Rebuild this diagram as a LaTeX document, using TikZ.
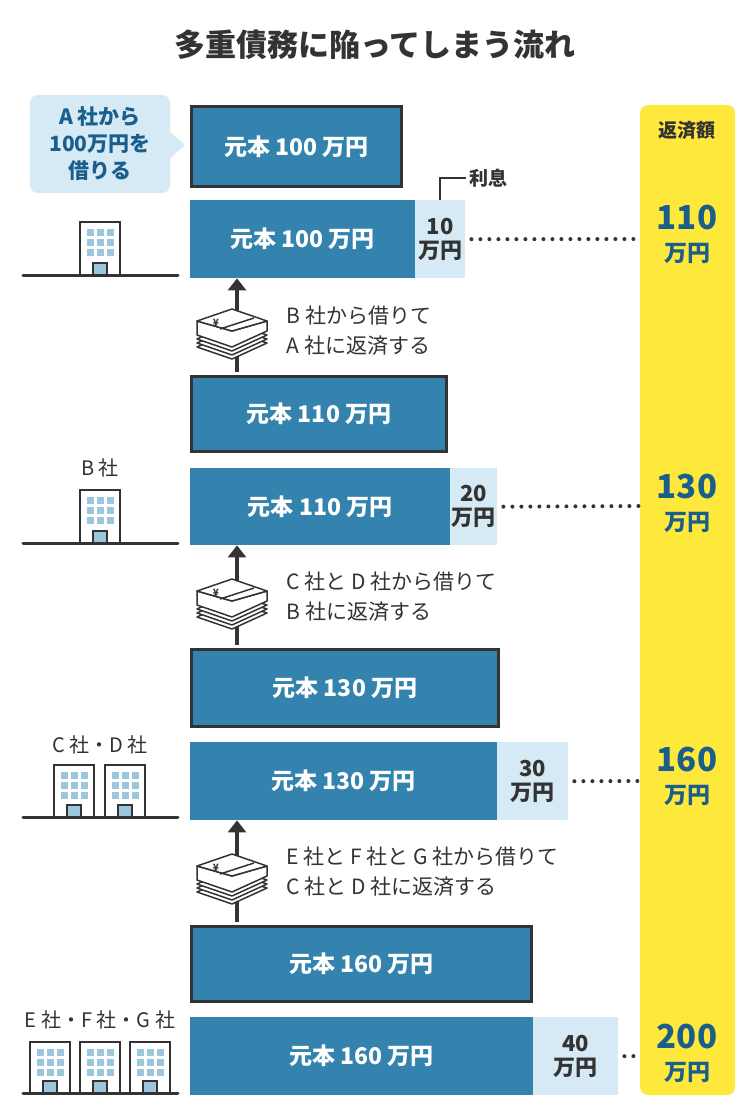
\documentclass[tikz,border=0pt]{standalone}
\usepackage{fontspec}
\setmainfont{Noto Sans CJK JP}
\usetikzlibrary{positioning,shapes,arrows.meta}
\definecolor{barblue}{HTML}{3383AE}
\definecolor{paleblue}{HTML}{D5EAF4}
\definecolor{inkblue}{HTML}{1A5E8C}
\definecolor{ink}{HTML}{333333}
\definecolor{payyellow}{HTML}{FFE83C}
\definecolor{winblue}{HTML}{9CC6DC}
\tikzset{
  bar/.style={fill=barblue,text=white,font=\bfseries\fontsize{23}{26}\selectfont,inner sep=0pt,anchor=north west},
  newbar/.style={bar,draw=ink,line width=3pt},
  interest/.style={fill=paleblue,text=ink,font=\bfseries\fontsize{22}{24}\selectfont,align=center,inner sep=0pt,anchor=north west},
  amount/.style={text=inkblue,font=\bfseries\fontsize{33}{34}\selectfont,align=center},
  yen/.style={text=inkblue,font=\bfseries\fontsize{23}{24}\selectfont},
  note/.style={text=ink,font=\fontsize{21}{30}\selectfont,align=left,anchor=west},
  firm/.style={text=ink,font=\fontsize{20}{22}\selectfont},
  leader/.style={ink,line width=4pt,line cap=round,dash pattern=on 0pt off 9pt},
  push/.style={ink,line width=4pt,-{Triangle[length=12pt,width=18pt]}}
}
\newcommand\bldg[3]{% x, top y, bottom y
  \fill[white,draw=ink,line width=2.5pt] (#1,#2) rectangle ++(40,#3-#2);
  \foreach \i in {0,1,2}{\foreach \j in {0,1,2}{
    \fill[winblue] (#1+7+\i*10,#2+7+\j*10) rectangle ++(7,7);}}
  \fill[winblue,draw=ink,line width=1.5pt] (#1+13,#3-12) rectangle (#1+27,#3);
}
\newcommand\cash[2]{% money stack centred at x,y
  \begin{scope}[shift={(#1,#2)},ink,line width=1.5pt,line join=round]
    \foreach \k in {12,8,4}{\draw[fill=white] (-35,\k) -- (0,\k+12) -- (35,\k-4) -- (0,\k-16) -- cycle;}
    \draw[fill=white] (-35,0) -- (0,12) -- (35,-4) -- (35,-14) -- (0,-4) -- (-35,-14) -- cycle;
    \draw[fill=white] (-35,-14) -- (0,-4) -- (35,-14) -- (0,-26) -- cycle;
    \draw (-12,-6) -- (22,-17);
    \node[font=\bfseries\fontsize{10}{10}\selectfont,inner sep=0pt] at (-16,-12) {¥};
  \end{scope}
}
\begin{document}
\begin{tikzpicture}[x=1pt,y=-1pt]
\useasboundingbox (0,0) rectangle (750,1120);
\fill[white] (0,0) rectangle (750,1120);
\node[text=ink] (title) at (375,45) {\bfseries\fontsize{31}{33}\selectfont 多重債務に陥ってしまう流れ};

% repayment column
\fill[payyellow,rounded corners=8pt] (640,105) rectangle (735,1095);
\node[text=ink,font=\bfseries\fontsize{19}{20}\selectfont] (head) at (687,130) {返済額};
\foreach \v/\y/\nm in {110/218/pa,130/487/pb,160/760/pc,200/1037/pd}{
  \node[amount] (\nm) at (687,\y) {\v};
  \node[yen] (\nm y) at (687,\y+35) {万円};
}

% callout
\fill[paleblue,rounded corners=8pt] (30,95) rectangle (170,193);
\fill[paleblue] (168,130) -- (185,145) -- (168,160) -- cycle;
\node[text=inkblue,font=\bfseries\fontsize{21}{27}\selectfont,align=center] (loan) at (100,144) {A 社から\\100万円を\\借りる};

% bars
\node[newbar,minimum width=210pt,minimum height=80pt] (b1) at (190,105) {元本 100 万円};
\node[bar,minimum width=225pt,minimum height=78pt] (b2) at (190,200) {元本 100 万円};
\node[interest,minimum width=50pt,minimum height=78pt] (i2) at (415,200) {10\\万円};
\node[newbar,minimum width=255pt,minimum height=75pt] (b3) at (190,375) {元本 110 万円};
\node[bar,minimum width=260pt,minimum height=77pt] (b4) at (190,468) {元本 110 万円};
\node[interest,minimum width=47pt,minimum height=77pt] (i4) at (450,468) {20\\万円};
\node[newbar,minimum width=307pt,minimum height=77pt] (b5) at (190,648) {元本 130 万円};
\node[bar,minimum width=307pt,minimum height=78pt] (b6) at (190,742) {元本 130 万円};
\node[interest,minimum width=71pt,minimum height=78pt] (i6) at (497,742) {30\\万円};
\node[newbar,minimum width=340pt,minimum height=75pt] (b7) at (190,925) {元本 160 万円};
\node[bar,minimum width=343pt,minimum height=78pt] (b8) at (190,1017) {元本 160 万円};
\node[interest,minimum width=85pt,minimum height=78pt] (i8) at (533,1017) {40\\万円};

% interest label
\node[text=ink,font=\bfseries\fontsize{19}{20}\selectfont,anchor=west] (rate) at (466,178) {利息};
\draw[ink,line width=1.5pt] (rate.west) -| (i2.north);

% dotted leaders
\draw[leader] ([xshift=6pt]i2.east) -- (640,239);
\draw[leader] ([xshift=6pt]i4.east) -- (640,506);
\draw[leader] ([xshift=6pt]i6.east) -- (640,781);
\draw[leader] ([xshift=6pt]i8.east) -- (640,1056);

% refinancing arrows
\coordinate (s1) at (237,372);
\coordinate (s2) at (237,645);
\coordinate (s3) at (237,922);
\draw[push] (s1) -- (s1|-b2.south);
\draw[push] (s2) -- (s2|-b4.south);
\draw[push] (s3) -- (s3|-b6.south);
\cash{232}{335}
\cash{232}{605}
\cash{232}{880}
\node[note] (n1) at (283,331) {B 社から借りて\\A 社に返済する};
\node[note] (n2) at (283,597) {C 社と D 社から借りて\\B 社に返済する};
\node[note] (n3) at (283,872) {E 社と F 社と G 社から借りて\\C 社と D 社に返済する};

% companies
\draw[ink,line width=3pt,line cap=round] (23,275) -- (178,275);
\bldg{80}{222}{275}
\node[firm] (fb) at (100,468) {B 社};
\draw[ink,line width=3pt,line cap=round] (23,543) -- (178,543);
\bldg{80}{490}{543}
\node[firm] (fcd) at (100,745) {C 社・D 社};
\draw[ink,line width=3pt,line cap=round] (23,817) -- (178,817);
\bldg{54}{765}{817}
\bldg{105}{765}{817}
\node[firm] (fefg) at (100,1020) {E 社・F 社・G 社};
\draw[ink,line width=3pt,line cap=round] (23,1093) -- (178,1093);
\bldg{30}{1042}{1093}
\bldg{80}{1042}{1093}
\bldg{130}{1042}{1093}
\end{tikzpicture}
\end{document}
